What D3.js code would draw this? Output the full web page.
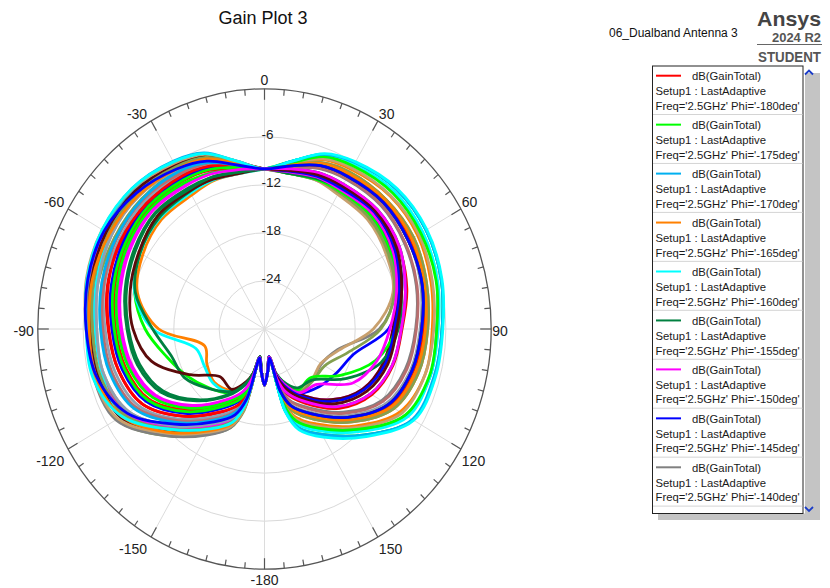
<!DOCTYPE html>
<html>
<head>
<meta charset="utf-8">
<script src="https://cdn.jsdelivr.net/npm/d3@7"></script>
<style>
  html, body { margin: 0; padding: 0; background: #fff; }
  svg { display: block; font-family: "Liberation Sans", Arial, sans-serif; }
</style>
</head>
<body>
<svg id="chart" width="830" height="588"></svg>
<script>
// Theta sample angles (deg), clockwise from the top, in drawing order around the pattern
const thetaDeg = [0, 10, 20, 30, 45, 60, 75, 90, 105, 120, 135, 150, 160, 165, 170, 175,
                  180, -175, -170, -165, -160, -150, -135, -120, -105, -90, -75, -60, -45, -30, -20, -10];

// Phi value of each trace
const phiDeg = [-180, -175, -170, -165, -160, -155, -150, -145, -140, -135, -130, -125,
                -120, -115, -110, -105, -100, -95, -90, -85, -80, -75, -70, -65,
                -60, -55, -50, -45, -40, -35, -30, -25, -20, -15, -10, -5];

// Trace colour cycle
const traceColors = ["#ff0000", "#00ff00", "#00b0f0", "#ff8000", "#00ffff", "#008040", "#ff00ff",
                     "#0000ff", "#808080", "#5c0a0a", "#c8a06e", "#84a050", "#8fa0b4", "#b86e6e"];

// dB(GainTotal) per trace, one value per thetaDeg entry
const gainDb = [
  [-10.0, -9.7,-9.3,-9.2,-9.0,-9.5,-10.5,-11.8,-12.4,-13.6,-16.0,-19.3,-21.4,-23.2,-26.4,-24.9, -23.0, -24.8,-26.3,-22.1,-19.9,-17.9,-14.6,-11.3,-10.0,-9.3,-8.5,-8.1,-7.8,-8.1,-8.3,-9.3],
  [-10.0, -8.7,-6.8,-6.0,-5.3,-5.3,-5.8,-6.5,-6.7,-7.3,-11.3,-14.8,-16.9,-19.5,-26.2,-24.8, -23.0, -24.9,-26.5,-24.2,-22.7,-20.8,-19.6,-18.2,-16.6,-14.2,-12.2,-10.9,-10.0,-9.8,-10.1,-10.2],
  [-10.0, -8.7,-6.8,-6.0,-5.3,-5.3,-5.8,-6.5,-6.8,-7.4,-11.2,-14.6,-16.8,-19.4,-26.2,-24.8, -23.0, -24.8,-26.2,-20.5,-18.2,-16.6,-13.2,-9.0,-7.4,-6.9,-6.1,-5.4,-5.2,-5.8,-6.6,-8.7],
  [-10.0, -9.0,-7.5,-7.0,-6.5,-6.6,-7.2,-7.8,-8.0,-9.3,-12.9,-16.3,-18.4,-20.8,-26.3,-24.8, -23.0, -24.9,-26.5,-24.4,-22.8,-21.2,-20.6,-21.2,-21.8,-16.0,-12.6,-11.4,-10.7,-10.7,-10.3,-10.3],
  [-10.0, -8.9,-7.1,-6.4,-5.9,-6.0,-6.4,-7.2,-7.3,-8.4,-12.2,-15.6,-17.7,-20.2,-26.2,-24.8, -23.0, -24.9,-26.5,-24.3,-22.6,-20.9,-20.4,-20.8,-20.6,-15.2,-12.2,-11.0,-10.4,-10.4,-10.2,-10.3],
  [-10.0, -9.7,-9.2,-9.1,-8.9,-9.4,-10.7,-11.9,-12.5,-13.8,-16.3,-19.6,-21.6,-23.4,-26.4,-24.9, -23.0, -24.9,-26.5,-24.3,-22.9,-21.0,-19.5,-17.8,-17.2,-15.2,-12.3,-11.0,-10.3,-10.2,-10.0,-10.2],
  [-10.0, -10.1,-9.8,-9.9,-9.6,-10.3,-11.7,-13.0,-13.7,-15.0,-17.5,-20.6,-22.8,-24.2,-26.5,-24.9, -23.0, -24.9,-26.4,-23.4,-21.6,-19.6,-16.3,-13.2,-11.7,-10.9,-10.1,-9.4,-8.9,-9.1,-9.2,-9.7],
  [-10.0, -10.1,-9.9,-9.6,-9.4,-10.0,-11.2,-13.6,-17.8,-19.0,-19.8,-20.8,-22.8,-24.2,-26.5,-24.9, -23.0, -24.9,-26.4,-22.7,-20.6,-18.7,-15.3,-12.1,-10.7,-10.0,-9.2,-8.6,-8.2,-8.4,-8.7,-9.5],
  [-10.0, -10.3,-10.2,-10.2,-10.2,-10.9,-12.1,-14.8,-20.0,-21.3,-21.0,-20.9,-22.9,-24.3,-26.5,-24.9, -23.0, -24.8,-26.3,-21.4,-19.1,-17.0,-13.6,-10.2,-8.9,-8.4,-7.8,-7.4,-7.2,-7.4,-7.9,-9.2],
  [-10.0, -10.1,-9.8,-9.9,-9.6,-10.3,-11.7,-13.0,-13.7,-15.0,-17.5,-20.6,-22.8,-24.2,-26.5,-24.9, -23.0, -24.9,-26.5,-24.3,-23.0,-21.3,-21.6,-18.6,-14.5,-12.6,-11.6,-10.8,-10.0,-10.1,-10.1,-10.3],
  [-10.0, -10.3,-10.2,-10.6,-10.7,-11.4,-12.4,-15.6,-19.8,-21.4,-21.1,-21.0,-23.0,-24.4,-26.5,-24.9, -23.0, -24.8,-26.3,-20.8,-18.4,-16.3,-12.9,-9.3,-8.0,-7.8,-7.2,-6.6,-6.5,-7.0,-7.5,-9.0],
  [-10.0, -10.3,-10.1,-10.3,-10.4,-11.1,-12.2,-14.6,-18.6,-20.8,-20.9,-20.9,-22.9,-24.3,-26.5,-24.9, -23.0, -24.8,-26.3,-19.4,-16.9,-14.8,-11.2,-7.4,-6.9,-7.0,-7.2,-7.1,-7.0,-7.2,-7.8,-9.1],
  [-10.0, -9.4,-8.5,-8.0,-7.9,-8.0,-8.6,-9.4,-10.0,-11.4,-14.7,-18.0,-20.0,-22.1,-26.3,-24.8, -23.0, -24.8,-26.3,-21.8,-19.5,-17.5,-14.1,-10.8,-9.5,-8.9,-8.1,-7.8,-7.5,-7.8,-8.1,-9.3],
  [-10.0, -9.2,-8.1,-7.6,-7.2,-7.4,-8.1,-8.7,-9.2,-10.5,-13.9,-17.3,-19.3,-21.6,-26.3,-24.8, -23.0, -24.8,-26.3,-20.6,-18.2,-16.0,-12.6,-9.0,-7.9,-7.5,-6.9,-6.4,-6.4,-6.8,-7.4,-9.0],
  [-10.0, -9.3,-8.2,-7.7,-7.4,-7.7,-8.1,-8.9,-9.6,-10.8,-14.1,-17.5,-19.6,-21.8,-26.3,-24.8, -23.0, -24.9,-26.4,-22.9,-20.9,-19.0,-15.7,-12.4,-11.0,-10.3,-9.5,-8.9,-8.5,-8.6,-8.9,-9.6],
  [-10.0, -10.3,-10.1,-10.1,-10.0,-10.7,-11.5,-12.6,-14.8,-18.4,-21.4,-21.2,-23.0,-24.3,-26.5,-24.9, -23.0, -24.9,-26.4,-23.2,-21.3,-19.3,-16.0,-12.9,-11.4,-10.6,-9.8,-9.1,-8.7,-8.9,-9.3,-9.8],
  [-10.0, -8.9,-7.1,-6.4,-5.9,-6.0,-6.4,-7.2,-7.3,-8.4,-12.2,-15.6,-17.7,-20.2,-26.2,-24.8, -23.0, -24.8,-26.2,-20.4,-17.8,-16.0,-12.6,-8.6,-6.8,-6.6,-5.9,-5.4,-5.4,-6.1,-6.9,-8.7],
  [-10.0, -9.2,-7.9,-7.4,-7.2,-7.2,-7.8,-8.4,-8.9,-10.2,-13.6,-17.0,-19.1,-21.4,-26.3,-24.8, -23.0, -24.8,-26.2,-20.2,-17.7,-15.6,-12.2,-8.4,-7.3,-7.2,-6.4,-6.0,-5.9,-6.4,-7.1,-8.9],
  [-10.0, -8.8,-7.0,-6.3,-5.7,-5.8,-6.3,-7.0,-7.3,-8.1,-11.9,-15.3,-17.4,-20.0,-26.2,-24.8, -23.0, -24.8,-26.2,-19.9,-17.4,-15.4,-11.9,-8.0,-7.8,-7.6,-7.0,-6.4,-6.4,-6.8,-7.4,-9.0],
  [-10.0, -10.3,-10.0,-9.8,-9.7,-10.4,-11.3,-12.3,-14.0,-17.6,-21.0,-21.5,-23.1,-24.3,-26.5,-24.9, -23.0, -24.9,-26.5,-24.2,-22.8,-20.6,-17.5,-14.5,-12.9,-12.0,-11.1,-10.3,-9.6,-9.9,-9.8,-10.1],
  [-10.0, -10.1,-9.8,-9.9,-9.7,-10.4,-11.9,-13.4,-14.6,-16.5,-20.2,-20.8,-22.8,-24.2,-26.5,-24.9, -23.0, -24.8,-26.2,-20.6,-18.1,-16.0,-12.6,-8.8,-7.4,-6.9,-6.2,-5.8,-5.8,-6.4,-7.2,-8.9],
  [-10.0, -10.0,-9.7,-9.7,-9.4,-10.1,-11.5,-12.8,-13.4,-14.8,-17.2,-20.3,-22.5,-24.0,-26.5,-24.9, -23.0, -24.9,-26.4,-22.6,-20.5,-18.5,-15.1,-11.9,-10.5,-9.8,-9.0,-8.4,-8.0,-8.2,-8.6,-9.4],
  [-10.0, -9.5,-8.7,-8.4,-8.2,-8.6,-9.2,-10.0,-10.7,-12.1,-15.3,-18.7,-20.6,-22.7,-26.4,-24.9, -23.0, -24.8,-26.2,-19.6,-16.9,-14.7,-11.2,-7.3,-6.6,-6.6,-6.2,-6.0,-6.0,-6.6,-7.2,-8.9],
  [-10.0, -9.9,-9.5,-9.4,-9.2,-9.8,-11.2,-12.5,-13.1,-14.4,-16.8,-20.0,-22.2,-23.8,-26.4,-24.9, -23.0, -24.8,-26.2,-20.0,-17.5,-15.3,-11.8,-8.0,-7.3,-7.0,-6.3,-5.8,-5.7,-6.4,-7.0,-8.8],
  [-10.0, -9.0,-7.4,-6.8,-6.4,-6.4,-7.0,-7.6,-8.0,-9.0,-12.6,-16.0,-18.1,-20.6,-26.3,-24.8, -23.0, -24.8,-26.2,-19.7,-17.1,-15.1,-11.6,-7.6,-6.6,-6.4,-5.6,-5.2,-5.3,-6.1,-6.8,-8.7],
  [-10.0, -9.2,-7.9,-7.4,-7.2,-7.2,-7.8,-8.4,-8.9,-10.2,-13.6,-17.0,-19.1,-21.4,-26.3,-24.8, -23.0, -24.8,-26.2,-20.3,-17.8,-15.7,-12.4,-8.6,-7.5,-7.2,-6.6,-6.2,-6.1,-6.6,-7.2,-8.9],
  [-10.0, -9.3,-8.3,-8.0,-7.7,-8.0,-8.4,-9.2,-9.8,-11.1,-14.4,-17.8,-19.8,-22.0,-26.3,-24.8, -23.0, -24.8,-26.3,-20.8,-18.4,-16.3,-12.9,-9.3,-8.0,-7.8,-7.2,-6.6,-6.5,-7.0,-7.5,-9.0],
  [-10.0, -9.5,-8.6,-8.3,-8.1,-8.5,-9.1,-9.9,-10.5,-11.9,-15.1,-18.5,-20.5,-22.6,-26.4,-24.9, -23.0, -24.8,-26.3,-21.5,-19.2,-17.1,-13.8,-10.4,-9.1,-8.6,-8.0,-7.4,-7.2,-7.6,-8.0,-9.2],
  [-10.0, -9.3,-8.3,-8.0,-7.7,-8.0,-8.4,-9.2,-9.8,-11.1,-14.4,-17.8,-19.8,-22.0,-26.3,-24.8, -23.0, -24.8,-26.3,-22.1,-19.9,-18.0,-14.6,-11.3,-10.0,-9.4,-8.6,-8.0,-7.9,-8.0,-8.4,-9.3],
  [-10.0, -8.9,-7.1,-6.5,-6.0,-6.1,-6.5,-7.2,-7.4,-8.5,-12.3,-15.7,-17.8,-20.3,-26.2,-24.8, -23.0, -24.9,-26.4,-22.8,-20.7,-18.8,-15.4,-12.2,-10.8,-10.1,-9.3,-8.7,-8.3,-8.5,-8.8,-9.5],
  [-10.0, -8.7,-6.8,-6.0,-5.3,-5.3,-5.8,-6.5,-6.7,-7.3,-11.3,-14.8,-16.9,-19.5,-26.2,-24.8, -23.0, -24.8,-26.3,-21.3,-19.0,-16.9,-13.5,-10.1,-8.8,-8.3,-7.7,-7.3,-7.1,-7.3,-7.9,-9.2],
  [-10.0, -9.2,-8.0,-7.6,-7.3,-7.5,-8.1,-8.7,-9.3,-10.6,-14.0,-17.4,-19.4,-21.6,-26.3,-24.8, -23.0, -24.8,-26.2,-20.0,-17.4,-15.3,-11.8,-8.2,-6.9,-6.8,-6.4,-6.3,-6.4,-6.9,-7.4,-9.0],
  [-10.0, -8.7,-6.7,-5.9,-5.2,-5.2,-5.7,-6.4,-6.6,-7.2,-11.0,-14.4,-16.6,-19.3,-26.2,-24.8, -23.0, -24.8,-26.2,-20.2,-17.6,-15.6,-12.3,-8.2,-6.5,-6.4,-5.7,-5.2,-5.2,-5.9,-6.7,-8.7],
  [-10.0, -9.3,-8.3,-8.0,-7.7,-8.0,-8.4,-9.2,-9.8,-11.1,-14.4,-17.8,-19.8,-22.0,-26.3,-24.8, -23.0, -24.9,-26.5,-24.1,-22.6,-20.4,-17.3,-14.2,-12.6,-11.8,-10.9,-10.1,-9.5,-9.7,-9.8,-10.1],
  [-10.0, -9.7,-9.2,-9.1,-8.9,-9.4,-10.7,-11.9,-12.5,-13.8,-16.3,-19.6,-21.6,-23.4,-26.4,-24.9, -23.0, -24.9,-26.4,-23.5,-21.7,-19.8,-16.5,-13.4,-11.9,-11.1,-10.3,-9.6,-9.1,-9.3,-9.4,-9.8],
  [-10.0, -9.3,-8.3,-8.0,-7.7,-8.0,-8.4,-9.2,-9.8,-11.1,-14.4,-17.8,-19.8,-22.0,-26.3,-24.8, -23.0, -24.8,-26.3,-21.0,-18.6,-16.6,-13.2,-9.0,-7.0,-6.4,-5.8,-5.5,-6.0,-6.9,-7.7,-9.2]
];

// Axis ticks and labels
const angleTickValues = [0, 30, 60, 90, 120, 150, 180, -150, -120, -90, -60, -30];
const angleTickLabels = ["0", "30", "60", "90", "120", "150", "-180", "-150", "-120", "-90", "-60", "-30"];
const radialTickValues = [-24, -18, -12, -6];
const radialDomain = [-30, 0];

// Legend text
const legendTitle = "dB(GainTotal)";
const legendSetup = "Setup1 : LastAdaptive";
const legendFreq = "2.5GHz";
const legendVisible = 9;

// ---------------------------------------------------------------
const svg = d3.select("#chart");
svg.append("rect").attr("width", 830).attr("height", 588).attr("fill", "#fff");

const cx = 264.5, cy = 329, RX = 226.7, RY = 240.2;
const rFrac = d3.scaleLinear().domain(radialDomain).range([0, 1]).clamp(true);
const xs = d3.scaleLinear().domain([-1, 1]).range([cx - RX, cx + RX]);
const ys = d3.scaleLinear().domain([-1, 1]).range([cy + RY, cy - RY]);
const rad = d => d * Math.PI / 180;
const polar = (deg, frac) => [xs(frac * Math.sin(rad(deg))), ys(frac * Math.cos(rad(deg)))];

// Grid: rings and spokes
const grid = svg.append("g");
grid.selectAll("ellipse.ring").data(radialTickValues).join("ellipse")
  .attr("cx", cx).attr("cy", cy)
  .attr("rx", d => xs(rFrac(d)) - cx).attr("ry", d => cy - ys(rFrac(d)))
  .attr("fill", "none").attr("stroke", "#d9d9d9").attr("stroke-width", 1);
grid.selectAll("line.spoke").data(d3.range(0, 360, 30)).join("line")
  .attr("x1", cx).attr("y1", cy)
  .attr("x2", d => polar(d, 1)[0]).attr("y2", d => polar(d, 1)[1])
  .attr("stroke", "#dcdcdc").attr("stroke-width", 1);

// Traces
const lineGen = d3.line().curve(d3.curveCatmullRomClosed.alpha(0.5));
const traces = svg.append("g");
gainDb.forEach((vals, i) => {
  const pts = vals.map((v, k) => polar(thetaDeg[k], rFrac(v)));
  traces.append("path")
    .attr("d", lineGen(pts))
    .attr("fill", "none")
    .attr("stroke", traceColors[i % traceColors.length])
    .attr("stroke-width", 2.8)
    .attr("stroke-linejoin", "round");
});

// Outer boundary with angle ticks
const axis = svg.append("g");
axis.append("ellipse").attr("cx", cx).attr("cy", cy).attr("rx", RX).attr("ry", RY)
  .attr("fill", "none").attr("stroke", "#555").attr("stroke-width", 1.3);
axis.selectAll("line.tick").data(d3.range(-180, 180, 5)).join("line")
  .each(function (d) {
    const [px, py] = polar(d, 1);
    const dx = px - cx, dy = py - cy, len = Math.hypot(dx, dy);
    const t = d % 30 === 0 ? 11 : 6;
    d3.select(this)
      .attr("x1", px).attr("y1", py)
      .attr("x2", px - dx / len * t).attr("y2", py - dy / len * t);
  })
  .attr("stroke", "#555").attr("stroke-width", 1.2);

axis.selectAll("text.alabel").data(angleTickValues).join("text")
  .each(function (d, i) {
    const [px, py] = polar(d, 1);
    const s = Math.sin(rad(d)), c = Math.cos(rad(d));
    let x = px, y, anchor = "middle";
    if (Math.abs(s) < 0.01) {
      y = c > 0 ? py - 9 : py + 11;
    } else {
      anchor = s > 0 ? "start" : "end";
      x = px + (s > 0 ? 1 : -4);
      y = py + (c > 0.1 ? -7 : (c < -0.1 ? 12 : 2));
    }
    d3.select(this).attr("x", x).attr("y", y).attr("text-anchor", anchor).text(angleTickLabels[i]);
  })
  .attr("dominant-baseline", "central")
  .attr("font-size", 14).attr("fill", "#222");

axis.selectAll("text.rlabel").data(radialTickValues).join("text")
  .attr("x", cx - 3)
  .attr("y", d => ys(rFrac(d)) - 2)
  .attr("dominant-baseline", "central")
  .attr("font-size", 13.5).attr("fill", "#222")
  .text(d => d);

// Titles
svg.append("text").attr("x", 263).attr("y", 18).attr("text-anchor", "middle")
  .attr("dominant-baseline", "central").attr("font-size", 18).attr("fill", "#111")
  .text("Gain Plot 3");
svg.append("text").attr("x", 609).attr("y", 33).attr("dominant-baseline", "central")
  .attr("font-size", 12).attr("fill", "#111").text("06_Dualband Antenna 3");
svg.append("text").attr("x", 757).attr("y", 26).attr("font-size", 21).attr("font-weight", "bold")
  .attr("fill", "#444").attr("textLength", 64).attr("lengthAdjust", "spacingAndGlyphs").text("Ansys");
svg.append("text").attr("x", 772).attr("y", 42).attr("font-size", 12.5).attr("font-weight", "bold")
  .attr("fill", "#555").attr("textLength", 49).attr("lengthAdjust", "spacingAndGlyphs").text("2024 R2");
svg.append("line").attr("x1", 757).attr("x2", 822).attr("y1", 44.5).attr("y2", 44.5)
  .attr("stroke", "#666").attr("stroke-width", 1);
svg.append("text").attr("x", 758).attr("y", 61.5).attr("font-size", 14.5).attr("font-weight", "bold")
  .attr("fill", "#555").attr("textLength", 63).attr("lengthAdjust", "spacingAndGlyphs").text("STUDENT");

// Legend panel
const lg = svg.append("g");
lg.append("rect").attr("x", 805).attr("y", 73).attr("width", 15).attr("height", 447).attr("fill", "#c4c4c4");
lg.append("rect").attr("x", 658).attr("y", 513.5).attr("width", 162).attr("height", 6.5).attr("fill", "#c4c4c4");
lg.append("rect").attr("x", 652.5).attr("y", 66).attr("width", 150.5).attr("height", 447.5)
  .attr("fill", "#fff").attr("stroke", "#222").attr("stroke-width", 1);
lg.append("polyline").attr("points", "805,74.5 809,70.5 813,74.5")
  .attr("fill", "none").attr("stroke", "#1a3cc8").attr("stroke-width", 1.8);
lg.append("polyline").attr("points", "805,507 809,511 813,507")
  .attr("fill", "none").attr("stroke", "#1a3cc8").attr("stroke-width", 1.8);

const rowH = 48.95;
const rows = lg.selectAll("g.row").data(d3.range(legendVisible)).join("g")
  .attr("transform", k => `translate(0,${k * rowH})`);
rows.append("line").attr("x1", 656).attr("x2", 681).attr("y1", 75.7).attr("y2", 75.7)
  .attr("stroke", k => traceColors[k % traceColors.length]).attr("stroke-width", 2);
rows.append("text").attr("x", 692).attr("y", 76.2).attr("dominant-baseline", "central")
  .attr("font-size", 11.3).attr("fill", "#1a1a1a").text(legendTitle);
rows.append("text").attr("x", 655.5).attr("y", 91.2).attr("dominant-baseline", "central")
  .attr("font-size", 11.3).attr("fill", "#1a1a1a").text(legendSetup);
rows.append("text").attr("x", 655.5).attr("y", 105.8).attr("dominant-baseline", "central")
  .attr("font-size", 11.3).attr("fill", "#1a1a1a")
  .text(k => `Freq='${legendFreq}' Phi='${phiDeg[k]}deg'`);
rows.append("line").attr("x1", 653).attr("x2", 802.5).attr("y1", 114.5).attr("y2", 114.5)
  .attr("stroke", "#d4d4d4").attr("stroke-width", 1);
</script>
</body>
</html>
